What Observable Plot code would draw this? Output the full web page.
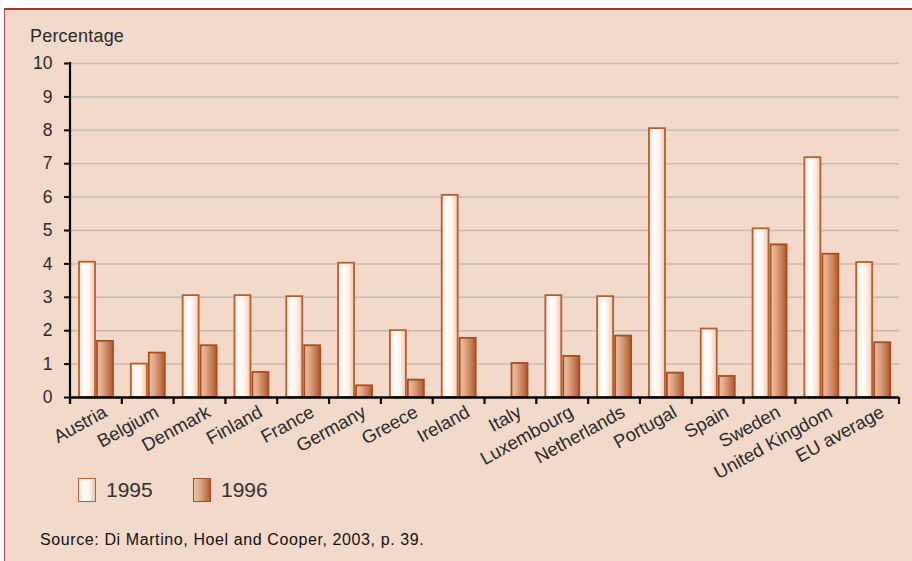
<!DOCTYPE html>
<html>
<head>
<meta charset="utf-8">
<script src="https://cdn.jsdelivr.net/npm/d3@7"></script>
<script src="https://cdn.jsdelivr.net/npm/@observablehq/plot@0.6"></script>
<style>
  html, body { margin: 0; padding: 0; background: #ffffff; }
  body { width: 912px; height: 561px; position: relative; overflow: hidden; font-family: "Liberation Sans", Arial, sans-serif; }
  #box { position: absolute; left: 4px; top: 8px; width: 920px; height: 600px; background: #f2d9ca; border-top: 2px solid #a9352a; border-left: 1px solid #b04a3a; }
  #chart { position: absolute; left: 0; top: 0; }
  .lbl { position: absolute; color: #2a2a2a; white-space: nowrap; }
  .sw { position: absolute; width: 16px; height: 22px; }
</style>
</head>
<body>
<div id="box"></div>
<div id="chart"></div>
<div class="lbl" style="left:30px; top:26px; font-size:18px; letter-spacing:0.2px;">Percentage</div>
<div class="sw" id="sw95" style="left:78px; top:478px; border:1.5px solid #b8602c; background:linear-gradient(to right,#f7e2d4 0%,#ffffff 30%,#fdf2ea 65%,#eec8b2 100%);"></div>
<div class="lbl" style="left:106px; top:478px; font-size:21px; color:#333;">1995</div>
<div class="sw" id="sw96" style="left:193px; top:478px; border:1.5px solid #a84e1e; background:linear-gradient(to right,#ecc4a8 0%,#dfa686 40%,#b35c30 100%);"></div>
<div class="lbl" style="left:221px; top:478px; font-size:21px; color:#333;">1996</div>
<div class="lbl" style="left:40px; top:531px; font-size:16px; letter-spacing:0.6px; color:#111;">Source: Di Martino, Hoel and Cooper, 2003, p. 39.</div>
<script>
const categories = ["Austria","Belgium","Denmark","Finland","France","Germany","Greece","Ireland","Italy","Luxembourg","Netherlands","Portugal","Spain","Sweden","United Kingdom","EU average"];
const values1995 = [4.05, 1.0, 3.05, 3.05, 3.02, 4.02, 2.0, 6.05, 0, 3.05, 3.02, 8.05, 2.05, 5.05, 7.18, 4.04];
const values1996 = [1.68, 1.33, 1.55, 0.75, 1.55, 0.35, 0.52, 1.77, 1.02, 1.23, 1.84, 0.73, 0.63, 4.57, 4.29, 1.64];
const yTicks = [0,1,2,3,4,5,6,7,8,9,10];

const data95 = categories.map((c,i) => ({country: c, value: values1995[i]}));
const data96 = categories.map((c,i) => ({country: c, value: values1996[i]}));

const W = 912, H = 520;
const mL = 70, mR = 13, mT = 63, mB = 123;
const bw = (W - mL - mR) / categories.length;

const chart = Plot.plot({
  width: W,
  height: H,
  marginLeft: mL,
  marginRight: mR,
  marginTop: mT,
  marginBottom: mB,
  style: {background: "transparent", fontFamily: "Liberation Sans, Arial, sans-serif", overflow: "visible"},
  x: {domain: categories, padding: 0, round: false, axis: null},
  y: {domain: [0, 10], axis: null},
  marks: [
    Plot.gridY(yTicks, {stroke: "#c4bcb8", strokeOpacity: 1, strokeWidth: 1.5}),
    Plot.axisY(yTicks, {label: null, tickSize: 6, tickPadding: 12, fontSize: 17.5, color: "#2a2a2a", stroke: "#000", strokeWidth: 2, tickFormat: d => String(d)}),
    Plot.barY(data95.filter(d => d.value > 0), {x: "country", y: "value", fill: "url(#g95)", stroke: "#b8602c", strokeWidth: 1.8, insetLeft: 9, insetRight: bw - 25}),
    Plot.barY(data96, {x: "country", y: "value", fill: "url(#g96)", stroke: "#a84e1e", strokeWidth: 1.8, insetLeft: 27, insetRight: bw - 43}),
    Plot.ruleY([0], {stroke: "#000", strokeWidth: 2.5}),
    Plot.text(categories, {x: d => d, y: 0, text: d => d, rotate: -29, textAnchor: "end", dx: 9, dy: 13, fontSize: 18.5, fill: "#2a2a2a"})
  ]
});

// gradients
const svg = d3.select(chart);
const defs = svg.insert("defs", ":first-child");
const g1 = defs.append("linearGradient").attr("id", "g95").attr("x1", "0").attr("x2", "1").attr("y1", "0").attr("y2", "0");
[["0%","#f5dccc"],["30%","#ffffff"],["65%","#fdf1e9"],["100%","#eec7b0"]].forEach(([o,c]) => g1.append("stop").attr("offset", o).attr("stop-color", c));
const g2 = defs.append("linearGradient").attr("id", "g96").attr("x1", "0").attr("x2", "1").attr("y1", "0").attr("y2", "0");
[["0%","#ebc3a7"],["35%","#dea584"],["100%","#b1592d"]].forEach(([o,c]) => g2.append("stop").attr("offset", o).attr("stop-color", c));

// axis lines and category boundary ticks, via Plot's scales
const xs = chart.scale("x"), ys = chart.scale("y");
const y0 = ys.apply(0), y10 = ys.apply(10);
const xLeft = xs.apply(categories[0]);
const g = svg.append("g").attr("stroke", "#000").attr("stroke-width", 2.2);
g.append("line").attr("x1", xLeft).attr("x2", xLeft).attr("y1", y10 - 1).attr("y2", y0 + 7);
const bounds = categories.map(c => xs.apply(c)).concat([xs.apply(categories[categories.length-1]) + xs.bandwidth]);
bounds.forEach(b => g.append("line").attr("x1", b).attr("x2", b).attr("y1", y0).attr("y2", y0 + 7));

document.getElementById("chart").appendChild(chart);
</script>
</body>
</html>
